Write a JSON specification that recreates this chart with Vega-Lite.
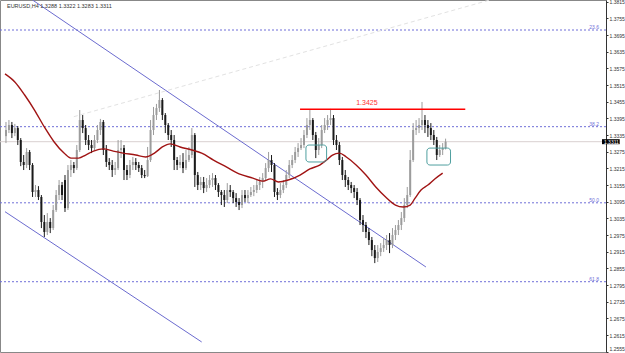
{
"$schema": "https://vega.github.io/schema/vega-lite/v6.json",
"width": 606, "height": 352,
"autosize": {"type": "none"},
"padding": {"left": 0, "top": 0, "right": 19, "bottom": 1},
"background": "white",
"config": {"view": {"stroke": "#888888", "strokeWidth": 1},
"axisY": {"format": ".4f", "labelFontSize": 5, "labelFont": "Liberation Sans", "labelColor": "#333333", "tickSize": 2, "tickColor": "#333333", "domainColor": "#333333", "labelPadding": 1, "grid": false, "labelOverlap": false, "labelBound": false, "labelFlush": false, "title": null}},
"datasets": {
"candles": [
{"t":1,"o":1.3331,"h":1.3382,"l":1.3306,"c":1.3353},
{"t":4,"o":1.3353,"h":1.3389,"l":1.3342,"c":1.3371},
{"t":7,"o":1.3371,"h":1.3382,"l":1.3324,"c":1.3342},
{"t":10,"o":1.3342,"h":1.3375,"l":1.3331,"c":1.3360},
{"t":13,"o":1.3360,"h":1.3367,"l":1.3299,"c":1.3317},
{"t":16,"o":1.3317,"h":1.3324,"l":1.3223,"c":1.3238},
{"t":19,"o":1.3238,"h":1.3263,"l":1.3209,"c":1.3227},
{"t":22,"o":1.3227,"h":1.3288,"l":1.3216,"c":1.3274},
{"t":25,"o":1.3274,"h":1.3281,"l":1.3209,"c":1.3227},
{"t":28,"o":1.3227,"h":1.3234,"l":1.3112,"c":1.3130},
{"t":31,"o":1.3130,"h":1.3155,"l":1.3112,"c":1.3137},
{"t":34,"o":1.3137,"h":1.3151,"l":1.3101,"c":1.3112},
{"t":37,"o":1.3112,"h":1.3119,"l":1.3000,"c":1.3022},
{"t":40,"o":1.3022,"h":1.3047,"l":1.2968,"c":1.2986},
{"t":43,"o":1.2986,"h":1.3054,"l":1.2975,"c":1.3022},
{"t":46,"o":1.3022,"h":1.3036,"l":1.2982,"c":1.3000},
{"t":49,"o":1.3000,"h":1.3083,"l":1.2993,"c":1.3065},
{"t":52,"o":1.3065,"h":1.3137,"l":1.3058,"c":1.3119},
{"t":55,"o":1.3119,"h":1.3173,"l":1.3101,"c":1.3155},
{"t":58,"o":1.3155,"h":1.3166,"l":1.3101,"c":1.3119},
{"t":61,"o":1.3173,"h":1.3191,"l":1.3058,"c":1.3072},
{"t":64,"o":1.3072,"h":1.3227,"l":1.3065,"c":1.3209},
{"t":67,"o":1.3209,"h":1.3245,"l":1.3184,"c":1.3227},
{"t":70,"o":1.3227,"h":1.3238,"l":1.3198,"c":1.3216},
{"t":73,"o":1.3216,"h":1.3299,"l":1.3209,"c":1.3281},
{"t":76,"o":1.3281,"h":1.3425,"l":1.3274,"c":1.3389},
{"t":79,"o":1.3389,"h":1.3407,"l":1.3342,"c":1.3360},
{"t":82,"o":1.3360,"h":1.3371,"l":1.3299,"c":1.3317},
{"t":85,"o":1.3317,"h":1.3335,"l":1.3281,"c":1.3299},
{"t":88,"o":1.3299,"h":1.3317,"l":1.3270,"c":1.3288},
{"t":91,"o":1.3288,"h":1.3335,"l":1.3281,"c":1.3317},
{"t":94,"o":1.3317,"h":1.3371,"l":1.3306,"c":1.3353},
{"t":97,"o":1.3353,"h":1.3393,"l":1.3335,"c":1.3382},
{"t":100,"o":1.3382,"h":1.3389,"l":1.3263,"c":1.3281},
{"t":103,"o":1.3281,"h":1.3299,"l":1.3220,"c":1.3238},
{"t":106,"o":1.3238,"h":1.3252,"l":1.3209,"c":1.3227},
{"t":109,"o":1.3227,"h":1.3245,"l":1.3184,"c":1.3209},
{"t":112,"o":1.3209,"h":1.3238,"l":1.3191,"c":1.3216},
{"t":115,"o":1.3216,"h":1.3317,"l":1.3209,"c":1.3281},
{"t":118,"o":1.3281,"h":1.3317,"l":1.3252,"c":1.3288},
{"t":121,"o":1.3288,"h":1.3299,"l":1.3173,"c":1.3209},
{"t":124,"o":1.3209,"h":1.3227,"l":1.3173,"c":1.3191},
{"t":127,"o":1.3191,"h":1.3245,"l":1.3180,"c":1.3227},
{"t":130,"o":1.3227,"h":1.3256,"l":1.3209,"c":1.3238},
{"t":133,"o":1.3238,"h":1.3252,"l":1.3209,"c":1.3227},
{"t":136,"o":1.3227,"h":1.3238,"l":1.3202,"c":1.3216},
{"t":139,"o":1.3216,"h":1.3227,"l":1.3180,"c":1.3191},
{"t":142,"o":1.3191,"h":1.3209,"l":1.3180,"c":1.3187},
{"t":145,"o":1.3187,"h":1.3292,"l":1.3184,"c":1.3245},
{"t":148,"o":1.3245,"h":1.3389,"l":1.3238,"c":1.3353},
{"t":151,"o":1.3353,"h":1.3436,"l":1.3335,"c":1.3407},
{"t":154,"o":1.3407,"h":1.3447,"l":1.3389,"c":1.3432},
{"t":157,"o":1.3432,"h":1.3497,"l":1.3418,"c":1.3461},
{"t":160,"o":1.3461,"h":1.3468,"l":1.3389,"c":1.3407},
{"t":163,"o":1.3407,"h":1.3414,"l":1.3342,"c":1.3371},
{"t":166,"o":1.3371,"h":1.3378,"l":1.3317,"c":1.3335},
{"t":169,"o":1.3335,"h":1.3353,"l":1.3292,"c":1.3317},
{"t":172,"o":1.3317,"h":1.3335,"l":1.3209,"c":1.3245},
{"t":175,"o":1.3245,"h":1.3256,"l":1.3209,"c":1.3227},
{"t":178,"o":1.3227,"h":1.3263,"l":1.3216,"c":1.3238},
{"t":181,"o":1.3238,"h":1.3270,"l":1.3198,"c":1.3216},
{"t":184,"o":1.3216,"h":1.3281,"l":1.3209,"c":1.3245},
{"t":187,"o":1.3245,"h":1.3292,"l":1.3238,"c":1.3263},
{"t":190,"o":1.3263,"h":1.3360,"l":1.3252,"c":1.3335},
{"t":193,"o":1.3335,"h":1.3342,"l":1.3148,"c":1.3191},
{"t":196,"o":1.3191,"h":1.3202,"l":1.3137,"c":1.3155},
{"t":199,"o":1.3155,"h":1.3184,"l":1.3137,"c":1.3166},
{"t":202,"o":1.3166,"h":1.3184,"l":1.3126,"c":1.3144},
{"t":205,"o":1.3144,"h":1.3180,"l":1.3130,"c":1.3155},
{"t":208,"o":1.3155,"h":1.3191,"l":1.3144,"c":1.3173},
{"t":211,"o":1.3173,"h":1.3198,"l":1.3148,"c":1.3180},
{"t":214,"o":1.3180,"h":1.3191,"l":1.3137,"c":1.3155},
{"t":217,"o":1.3155,"h":1.3162,"l":1.3112,"c":1.3130},
{"t":220,"o":1.3130,"h":1.3137,"l":1.3083,"c":1.3119},
{"t":223,"o":1.3119,"h":1.3137,"l":1.3076,"c":1.3101},
{"t":226,"o":1.3101,"h":1.3162,"l":1.3090,"c":1.3137},
{"t":229,"o":1.3137,"h":1.3155,"l":1.3112,"c":1.3130},
{"t":232,"o":1.3130,"h":1.3137,"l":1.3090,"c":1.3108},
{"t":235,"o":1.3108,"h":1.3126,"l":1.3076,"c":1.3094},
{"t":238,"o":1.3094,"h":1.3108,"l":1.3065,"c":1.3083},
{"t":241,"o":1.3083,"h":1.3137,"l":1.3072,"c":1.3119},
{"t":244,"o":1.3119,"h":1.3137,"l":1.3094,"c":1.3108},
{"t":247,"o":1.3108,"h":1.3137,"l":1.3090,"c":1.3119},
{"t":250,"o":1.3119,"h":1.3148,"l":1.3112,"c":1.3130},
{"t":253,"o":1.3130,"h":1.3155,"l":1.3115,"c":1.3137},
{"t":256,"o":1.3137,"h":1.3173,"l":1.3126,"c":1.3155},
{"t":259,"o":1.3155,"h":1.3184,"l":1.3137,"c":1.3166},
{"t":262,"o":1.3166,"h":1.3198,"l":1.3144,"c":1.3180},
{"t":265,"o":1.3180,"h":1.3234,"l":1.3173,"c":1.3216},
{"t":268,"o":1.3216,"h":1.3274,"l":1.3202,"c":1.3245},
{"t":271,"o":1.3245,"h":1.3263,"l":1.3202,"c":1.3227},
{"t":274,"o":1.3227,"h":1.3234,"l":1.3112,"c":1.3130},
{"t":277,"o":1.3130,"h":1.3144,"l":1.3101,"c":1.3119},
{"t":280,"o":1.3119,"h":1.3162,"l":1.3108,"c":1.3137},
{"t":283,"o":1.3137,"h":1.3173,"l":1.3126,"c":1.3155},
{"t":286,"o":1.3155,"h":1.3209,"l":1.3144,"c":1.3191},
{"t":289,"o":1.3191,"h":1.3245,"l":1.3180,"c":1.3227},
{"t":292,"o":1.3227,"h":1.3263,"l":1.3216,"c":1.3245},
{"t":295,"o":1.3245,"h":1.3292,"l":1.3234,"c":1.3274},
{"t":298,"o":1.3274,"h":1.3306,"l":1.3256,"c":1.3288},
{"t":301,"o":1.3288,"h":1.3324,"l":1.3281,"c":1.3299},
{"t":304,"o":1.3299,"h":1.3353,"l":1.3288,"c":1.3335},
{"t":307,"o":1.3335,"h":1.3396,"l":1.3324,"c":1.3371},
{"t":310,"o":1.3371,"h":1.3425,"l":1.3353,"c":1.3389},
{"t":313,"o":1.3389,"h":1.3396,"l":1.3317,"c":1.3335},
{"t":316,"o":1.3335,"h":1.3346,"l":1.3252,"c":1.3281},
{"t":319,"o":1.3281,"h":1.3324,"l":1.3263,"c":1.3299},
{"t":322,"o":1.3299,"h":1.3371,"l":1.3288,"c":1.3353},
{"t":325,"o":1.3353,"h":1.3396,"l":1.3342,"c":1.3371},
{"t":328,"o":1.3371,"h":1.3407,"l":1.3353,"c":1.3389},
{"t":331,"o":1.3389,"h":1.3429,"l":1.3371,"c":1.3396},
{"t":334,"o":1.3396,"h":1.3407,"l":1.3299,"c":1.3317},
{"t":337,"o":1.3317,"h":1.3335,"l":1.3281,"c":1.3299},
{"t":340,"o":1.3299,"h":1.3310,"l":1.3227,"c":1.3245},
{"t":343,"o":1.3245,"h":1.3256,"l":1.3173,"c":1.3191},
{"t":346,"o":1.3191,"h":1.3209,"l":1.3148,"c":1.3173},
{"t":349,"o":1.3173,"h":1.3184,"l":1.3137,"c":1.3155},
{"t":352,"o":1.3155,"h":1.3166,"l":1.3126,"c":1.3144},
{"t":355,"o":1.3144,"h":1.3155,"l":1.3108,"c":1.3130},
{"t":358,"o":1.3130,"h":1.3144,"l":1.3083,"c":1.3101},
{"t":361,"o":1.3101,"h":1.3108,"l":1.3011,"c":1.3029},
{"t":364,"o":1.3029,"h":1.3047,"l":1.2986,"c":1.3011},
{"t":367,"o":1.3011,"h":1.3022,"l":1.2964,"c":1.2986},
{"t":370,"o":1.2986,"h":1.3000,"l":1.2939,"c":1.2957},
{"t":373,"o":1.2957,"h":1.2968,"l":1.2899,"c":1.2921},
{"t":376,"o":1.2921,"h":1.2939,"l":1.2874,"c":1.2892},
{"t":379,"o":1.2892,"h":1.2939,"l":1.2878,"c":1.2914},
{"t":382,"o":1.2914,"h":1.2946,"l":1.2899,"c":1.2928},
{"t":385,"o":1.2928,"h":1.2964,"l":1.2914,"c":1.2939},
{"t":388,"o":1.2939,"h":1.2975,"l":1.2921,"c":1.2957},
{"t":391,"o":1.2957,"h":1.2982,"l":1.2910,"c":1.2939},
{"t":394,"o":1.2939,"h":1.3000,"l":1.2928,"c":1.2975},
{"t":397,"o":1.2975,"h":1.3011,"l":1.2957,"c":1.2993},
{"t":400,"o":1.2993,"h":1.3029,"l":1.2975,"c":1.3011},
{"t":403,"o":1.3011,"h":1.3058,"l":1.2993,"c":1.3036},
{"t":406,"o":1.3036,"h":1.3108,"l":1.3022,"c":1.3083},
{"t":409,"o":1.3083,"h":1.3148,"l":1.3072,"c":1.3119},
{"t":412,"o":1.3119,"h":1.3281,"l":1.3112,"c":1.3245},
{"t":415,"o":1.3245,"h":1.3378,"l":1.3238,"c":1.3353},
{"t":418,"o":1.3353,"h":1.3389,"l":1.3335,"c":1.3360},
{"t":421,"o":1.3360,"h":1.3396,"l":1.3342,"c":1.3371},
{"t":424,"o":1.3371,"h":1.3454,"l":1.3353,"c":1.3389},
{"t":427,"o":1.3389,"h":1.3407,"l":1.3342,"c":1.3371},
{"t":430,"o":1.3371,"h":1.3389,"l":1.3328,"c":1.3360},
{"t":433,"o":1.3360,"h":1.3378,"l":1.3317,"c":1.3335},
{"t":436,"o":1.3335,"h":1.3353,"l":1.3299,"c":1.3317},
{"t":439,"o":1.3317,"h":1.3328,"l":1.3245,"c":1.3263},
{"t":442,"o":1.3263,"h":1.3299,"l":1.3256,"c":1.3281},
{"t":445,"o":1.3281,"h":1.3306,"l":1.3263,"c":1.3288},
{"t":448,"o":1.3288,"h":1.3322,"l":1.3283,"c":1.3311}
],
"ma": [
{"t":0,"p":1.3555},{"t":10,"p":1.3526},{"t":20,"p":1.3479},{"t":30,"p":1.3425},{"t":40,"p":1.3364},{"t":50,"p":1.3310},{"t":60,"p":1.3270},{"t":67,"p":1.3252},{"t":75,"p":1.3252},{"t":82,"p":1.3263},{"t":90,"p":1.3277},{"t":100,"p":1.3285},{"t":110,"p":1.3277},{"t":120,"p":1.3270},{"t":133,"p":1.3263},{"t":143,"p":1.3256},{"t":152,"p":1.3270},{"t":160,"p":1.3292},{"t":168,"p":1.3303},{"t":178,"p":1.3292},{"t":190,"p":1.3281},{"t":200,"p":1.3270},{"t":212,"p":1.3245},{"t":225,"p":1.3220},{"t":238,"p":1.3195},{"t":252,"p":1.3180},{"t":262,"p":1.3169},{"t":270,"p":1.3177},{"t":278,"p":1.3166},{"t":288,"p":1.3173},{"t":300,"p":1.3191},{"t":310,"p":1.3213},{"t":320,"p":1.3227},{"t":327,"p":1.3245},{"t":333,"p":1.3263},{"t":340,"p":1.3270},{"t":347,"p":1.3256},{"t":357,"p":1.3227},{"t":367,"p":1.3191},{"t":377,"p":1.3148},{"t":387,"p":1.3112},{"t":397,"p":1.3083},{"t":405,"p":1.3076},{"t":412,"p":1.3083},{"t":417,"p":1.3108},{"t":423,"p":1.3137},{"t":430,"p":1.3155},{"t":437,"p":1.3177},{"t":445,"p":1.3198}
],
"channels": [
{"id":"upper","t":28,"p":1.3821},{"id":"upper","t":428,"p":1.2860},
{"id":"lower","t":0,"p":1.3059},{"id":"lower","t":200,"p":1.2590}
],
"fibs": [
{"level":"23.6","p":1.3713},{"level":"38.2","p":1.3365},{"level":"50.0","p":1.3091},{"level":"61.8","p":1.2807}
],
"boxes": [
{"t1":306,"t2":327,"p1":1.3299,"p2":1.3238},
{"t1":429,"t2":453,"p1":1.3288,"p2":1.3227}
]
},
"layer": [
{
"data": {"name": "fibs"},
"mark": {"type": "rule", "color": "#6f6fd8", "strokeDash": [2, 2], "strokeWidth": 1},
"encoding": {
"y": {"field": "p", "type": "quantitative", "title": null, "scale": {"domain": [1.2554, 1.3821], "nice": false, "zero": false},
"axis": {"orient": "right", "labelOverlap": false, "labelBaseline": {"condition": {"test": "datum.value < 1.256", "value": "bottom"}, "value": "middle"}, "values": [1.3815,1.3755,1.3695,1.3635,1.3575,1.3515,1.3455,1.3395,1.3335,1.3275,1.3215,1.3155,1.3095,1.3035,1.2975,1.2915,1.2855,1.2795,1.2735,1.2675,1.2615,1.2555]}}
}
},
{
"data": {"values": [{"p": 1.3311}]},
"mark": {"type": "rule", "color": "#d9d0d0", "strokeWidth": 1},
"encoding": {"y": {"field": "p", "type": "quantitative", "title": null, "axis": {"orient": "right", "labelOverlap": false, "values": [1.3815,1.3755,1.3695,1.3635,1.3575,1.3515,1.3455,1.3395,1.3335,1.3275,1.3215,1.3155,1.3095,1.3035,1.2975,1.2915,1.2855,1.2795,1.2735,1.2675,1.2615,1.2555]}}}
},
{
"data": {"name": "fibs"},
"mark": {"type": "text", "color": "#6f6fd8", "fontSize": 5, "font": "Liberation Sans", "align": "right", "baseline": "bottom"},
"encoding": {
"x": {"datum": 604, "type": "quantitative", "scale": {"domain": [0, 606], "nice": false, "zero": false}, "axis": null},
"y": {"field": "p", "type": "quantitative", "title": null, "axis": {"orient": "right", "labelOverlap": false, "values": [1.3815,1.3755,1.3695,1.3635,1.3575,1.3515,1.3455,1.3395,1.3335,1.3275,1.3215,1.3155,1.3095,1.3035,1.2975,1.2915,1.2855,1.2795,1.2735,1.2675,1.2615,1.2555]}},
"text": {"field": "level"}
}
},
{
"data": {"name": "channels"},
"mark": {"type": "line", "color": "#6b6bcf", "strokeWidth": 1},
"encoding": {
"x": {"field": "t", "type": "quantitative", "scale": {"domain": [0, 606], "nice": false, "zero": false}, "axis": null},
"y": {"field": "p", "type": "quantitative", "title": null, "axis": {"orient": "right", "labelOverlap": false, "values": [1.3815,1.3755,1.3695,1.3635,1.3575,1.3515,1.3455,1.3395,1.3335,1.3275,1.3215,1.3155,1.3095,1.3035,1.2975,1.2915,1.2855,1.2795,1.2735,1.2675,1.2615,1.2555]}},
"detail": {"field": "id"}
}
},
{
"data": {"values": [{"t": 70, "p": 1.3401}, {"t": 493, "p": 1.3821}]},
"mark": {"type": "line", "color": "#e2e2e2", "strokeWidth": 1, "strokeDash": [4, 3]},
"encoding": {
"x": {"field": "t", "type": "quantitative", "scale": {"domain": [0, 606], "nice": false, "zero": false}, "axis": null},
"y": {"field": "p", "type": "quantitative", "title": null, "axis": {"orient": "right", "labelOverlap": false, "values": [1.3815,1.3755,1.3695,1.3635,1.3575,1.3515,1.3455,1.3395,1.3335,1.3275,1.3215,1.3155,1.3095,1.3035,1.2975,1.2915,1.2855,1.2795,1.2735,1.2675,1.2615,1.2555]}}
}
},
{
"data": {"name": "candles"},
"mark": {"type": "rule", "strokeWidth": 1},
"encoding": {
"x": {"field": "t", "type": "quantitative", "scale": {"domain": [0, 606], "nice": false, "zero": false}, "axis": null},
"y": {"field": "l", "type": "quantitative", "title": null, "axis": {"orient": "right", "labelOverlap": false, "values": [1.3815,1.3755,1.3695,1.3635,1.3575,1.3515,1.3455,1.3395,1.3335,1.3275,1.3215,1.3155,1.3095,1.3035,1.2975,1.2915,1.2855,1.2795,1.2735,1.2675,1.2615,1.2555]}},
"y2": {"field": "h"},
"color": {"condition": {"test": "datum.c < datum.o", "value": "#1a1a1a"}, "value": "#9c9c9c"}
}
},
{
"data": {"name": "candles"},
"mark": {"type": "bar", "size": 2},
"encoding": {
"x": {"field": "t", "type": "quantitative", "scale": {"domain": [0, 606], "nice": false, "zero": false}, "axis": null},
"y": {"field": "o", "type": "quantitative", "title": null, "axis": {"orient": "right", "labelOverlap": false, "values": [1.3815,1.3755,1.3695,1.3635,1.3575,1.3515,1.3455,1.3395,1.3335,1.3275,1.3215,1.3155,1.3095,1.3035,1.2975,1.2915,1.2855,1.2795,1.2735,1.2675,1.2615,1.2555]}},
"y2": {"field": "c"},
"color": {"condition": {"test": "datum.c < datum.o", "value": "#1a1a1a"}, "value": "#9c9c9c"}
}
},
{
"data": {"name": "ma"},
"mark": {"type": "line", "color": "#a01414", "strokeWidth": 1.4, "interpolate": "monotone"},
"encoding": {
"x": {"field": "t", "type": "quantitative", "scale": {"domain": [0, 606], "nice": false, "zero": false}, "axis": null},
"y": {"field": "p", "type": "quantitative", "title": null, "axis": {"orient": "right", "labelOverlap": false, "values": [1.3815,1.3755,1.3695,1.3635,1.3575,1.3515,1.3455,1.3395,1.3335,1.3275,1.3215,1.3155,1.3095,1.3035,1.2975,1.2915,1.2855,1.2795,1.2735,1.2675,1.2615,1.2555]}}
}
},
{
"data": {"values": [{"t": 300, "p": 1.3428}, {"t": 468, "p": 1.3428}]},
"mark": {"type": "line", "color": "#ff0000", "strokeWidth": 1.6},
"encoding": {
"x": {"field": "t", "type": "quantitative", "scale": {"domain": [0, 606], "nice": false, "zero": false}, "axis": null},
"y": {"field": "p", "type": "quantitative", "title": null, "axis": {"orient": "right", "labelOverlap": false, "values": [1.3815,1.3755,1.3695,1.3635,1.3575,1.3515,1.3455,1.3395,1.3335,1.3275,1.3215,1.3155,1.3095,1.3035,1.2975,1.2915,1.2855,1.2795,1.2735,1.2675,1.2615,1.2555]}}
}
},
{
"data": {"values": [{"t": 368, "p": 1.3452, "label": "1.3425"}]},
"mark": {"type": "text", "color": "#ff3030", "fontSize": 7, "font": "Liberation Sans", "align": "center", "baseline": "middle"},
"encoding": {
"x": {"field": "t", "type": "quantitative", "scale": {"domain": [0, 606], "nice": false, "zero": false}, "axis": null},
"y": {"field": "p", "type": "quantitative", "title": null, "axis": {"orient": "right", "labelOverlap": false, "values": [1.3815,1.3755,1.3695,1.3635,1.3575,1.3515,1.3455,1.3395,1.3335,1.3275,1.3215,1.3155,1.3095,1.3035,1.2975,1.2915,1.2855,1.2795,1.2735,1.2675,1.2615,1.2555]}},
"text": {"field": "label"}
}
},
{
"data": {"name": "boxes"},
"mark": {"type": "rect", "fill": null, "fillOpacity": 0, "stroke": "#4f9f9f", "strokeWidth": 1, "cornerRadius": 3},
"encoding": {
"x": {"field": "t1", "type": "quantitative", "scale": {"domain": [0, 606], "nice": false, "zero": false}, "axis": null},
"x2": {"field": "t2"},
"y": {"field": "p1", "type": "quantitative", "title": null, "axis": {"orient": "right", "labelOverlap": false, "values": [1.3815,1.3755,1.3695,1.3635,1.3575,1.3515,1.3455,1.3395,1.3335,1.3275,1.3215,1.3155,1.3095,1.3035,1.2975,1.2915,1.2855,1.2795,1.2735,1.2675,1.2615,1.2555]}},
"y2": {"field": "p2"}
}
},
{
"data": {"values": [{"p1": 1.3320, "p2": 1.3302}]},
"mark": {"type": "rect", "color": "#000000", "clip": false},
"encoding": {
"x": {"datum": 607, "type": "quantitative", "scale": {"domain": [0, 606], "nice": false, "zero": false}, "axis": null},
"x2": {"datum": 625},
"y": {"field": "p1", "type": "quantitative", "title": null, "axis": {"orient": "right", "labelOverlap": false, "values": [1.3815,1.3755,1.3695,1.3635,1.3575,1.3515,1.3455,1.3395,1.3335,1.3275,1.3215,1.3155,1.3095,1.3035,1.2975,1.2915,1.2855,1.2795,1.2735,1.2675,1.2615,1.2555]}},
"y2": {"field": "p2"}
}
},
{
"data": {"values": [{"p": 1.3311, "label": "1.3311"}]},
"mark": {"type": "text", "color": "#ffffff", "fontSize": 5, "font": "Liberation Sans", "align": "left", "baseline": "middle", "clip": false},
"encoding": {
"x": {"datum": 609, "type": "quantitative", "scale": {"domain": [0, 606], "nice": false, "zero": false}, "axis": null},
"y": {"field": "p", "type": "quantitative", "title": null, "axis": {"orient": "right", "labelOverlap": false, "values": [1.3815,1.3755,1.3695,1.3635,1.3575,1.3515,1.3455,1.3395,1.3335,1.3275,1.3215,1.3155,1.3095,1.3035,1.2975,1.2915,1.2855,1.2795,1.2735,1.2675,1.2615,1.2555]}},
"text": {"field": "label"}
}
},
{
"data": {"values": [{"p": 1.3800, "label": "EURUSD,H4  1.3288 1.3322 1.3283 1.3311"}]},
"mark": {"type": "text", "color": "#333333", "fontSize": 5.5, "font": "Liberation Sans", "align": "left", "baseline": "middle"},
"encoding": {
"x": {"datum": 2, "type": "quantitative", "scale": {"domain": [0, 606], "nice": false, "zero": false}, "axis": null},
"y": {"field": "p", "type": "quantitative", "title": null, "axis": {"orient": "right", "labelOverlap": false, "values": [1.3815,1.3755,1.3695,1.3635,1.3575,1.3515,1.3455,1.3395,1.3335,1.3275,1.3215,1.3155,1.3095,1.3035,1.2975,1.2915,1.2855,1.2795,1.2735,1.2675,1.2615,1.2555]}},
"text": {"field": "label"}
}
}
]
}
